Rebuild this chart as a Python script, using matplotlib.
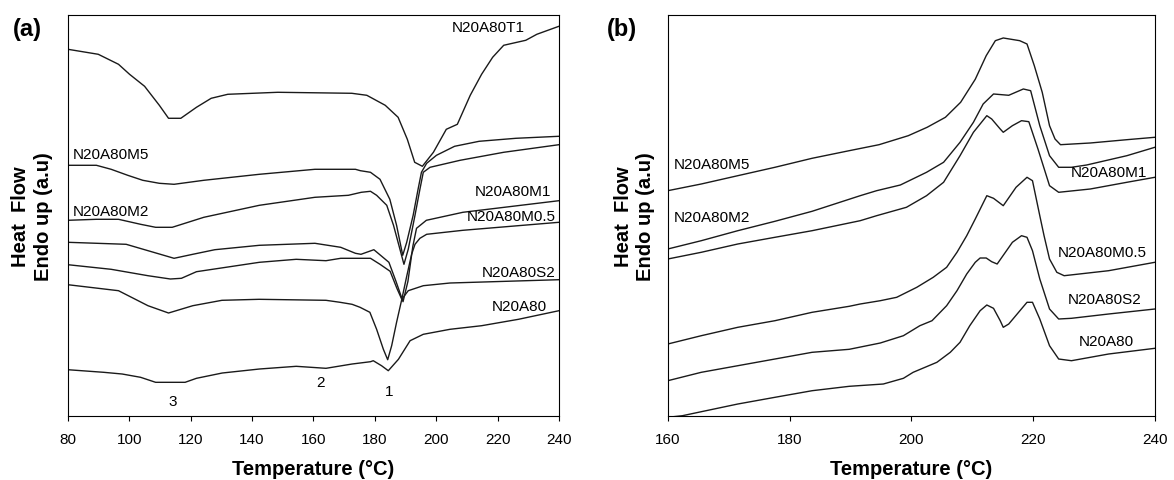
import matplotlib
matplotlib.use('Agg')
import matplotlib.pyplot as plt

plt.rcParams['font.family'] = ['Liberation Sans', 'DejaVu Sans']

# ---------------- painel (a): 80 - 240 C ----------------
t1_T = [80, 89.9, 96.5, 100.1, 105, 109.8, 112.8, 116.8, 121.9, 126.7, 132.1, 148.4, 172.5,
        177.4, 183.4, 187.6, 190.6, 193, 195.5, 199.1, 203.3, 206.9, 211.1, 214.8, 218.4,
        222, 229.2, 232.8, 240]
t1_y = [367, 362, 352, 342, 330, 311, 298, 298, 309, 318, 322, 324, 323,
        321, 311, 299, 277, 254, 250, 264, 287, 292, 321, 342, 359,
        371, 376, 382, 390]

m5_T = [80, 89.3, 94.1, 99.5, 104.4, 109.8, 114.6, 124.3, 142.4, 160.5, 173.7, 175.3, 178.6,
        181.7, 184.9, 187.1, 189.1, 190.4, 192.5, 194.1, 195.2, 196.9, 200.1, 206, 214, 226, 240]
m5_y = [251, 251, 247, 241, 236, 233, 232, 236, 242, 247, 247, 245.6, 244,
        237, 217, 191, 161, 174, 201, 227, 244, 253, 261, 270, 275, 278, 280]

m2_T = [80, 89.3, 96.5, 103.7, 108.6, 114, 117.1, 124.3, 142.4, 160.5, 171.4, 175.6, 178.6,
        180.6, 183.9, 186.1, 188.2, 189.5, 190.9, 193.1, 194.7, 195.8, 198, 207.8, 222, 240]
m2_y = [196, 197, 197, 192, 189, 189, 192, 199, 211, 219, 221, 224, 225,
        221, 211, 191, 167, 152, 167, 201, 227, 244, 249, 256, 264, 271.6]

m1_T = [80, 99, 114.6, 120.7, 127.9, 142.4, 160.5, 168.9, 173.7, 175.5, 179.7, 184.6, 186.9,
        189.2, 190.8, 192.4, 193.6, 196.8, 208.7, 240]
m1_y = [174, 172, 158, 162, 166.6, 171, 173, 169, 163, 162, 166.6, 154, 135,
        114.6, 135, 170, 188, 196, 204, 215.6]

s2_T = [80, 94.1, 106.1, 113.4, 117, 121.9, 142.4, 154.4, 164.1, 168.9, 178.6, 181.7, 185,
        187.2, 188.8, 190.9, 195.8, 204.5, 240]
s2_y = [151.6, 147, 140.6, 137.3, 138, 144.6, 154, 157, 155.6, 158, 158, 152, 145,
        128, 117, 125.6, 130.6, 133.3, 136.6]

m05_T = [80, 96.5, 106.1, 112.8, 120.7, 130.2, 142.3, 164.1, 168.7, 172.6, 175.2, 178.4, 180.6,
         182.8, 184.2, 185.5, 187.1, 188.8, 190.4, 192, 193.1, 194.7, 196.9, 208.7, 240]
m05_y = [131.6, 125.6, 110.6, 103.3, 110.6, 116, 117, 116, 114, 112, 109, 104, 87,
         67, 56.6, 70.6, 94, 117, 140, 162, 172, 178, 182, 186, 194]

n_T = [80, 91.7, 97.7, 103.7, 108.6, 118.2, 121.9, 130.3, 142.4, 154.4, 164.1, 172.6, 178.6,
       179.5, 182.2, 184.4, 187.7, 191.5, 195.8, 204.5, 214.8, 226.8, 240]
n_y = [46.6, 44, 42.3, 39, 34, 34, 38, 43.3, 47.3, 50, 48, 52.3, 54.6,
       55.6, 50.6, 45.6, 57, 75.6, 82, 87, 90.6, 97, 105.6]

# ---------------- painel (b): 160 - 240 C ----------------
bm5_T = [160, 165.5, 171.5, 177.6, 183.7, 189.8, 194.7, 199.5, 202.6, 205.6, 208.1, 210.5, 212.3,
         213.8, 215.1, 217.8, 219, 220.2, 221.5, 222.7, 223.6, 224.5, 229.4, 235.4, 240]
bm5_y = [225.6, 232.3, 240.6, 249, 258, 265.6, 271.6, 280.6, 289, 299, 314, 337, 360.6,
         375.6, 378.3, 375.6, 372.3, 350.6, 324, 290.6, 277.3, 271.6, 273.3, 276.6, 279]

bm2_T = [160, 165.5, 171.5, 177.6, 183.7, 191.6, 194.3, 198.2, 202.5, 205.3, 208, 210.2, 211.8,
         213.5, 216, 218.4, 219.6, 221.1, 222.7, 224.2, 226.3, 228.8, 235.4, 240]
bm2_y = [167.3, 175.6, 185.6, 195, 205, 220.6, 225.6, 231.3, 244, 254, 274, 294, 312.3,
         322.3, 321, 327.3, 325.6, 290.6, 260.6, 249, 249, 251.3, 260.6, 269]

bm1_T = [160, 165.5, 171.5, 177.6, 183.7, 191.6, 194.3, 199.2, 202.5, 205.3, 208, 210.2, 212.4,
         213.2, 214.6, 215.1, 216.6, 218.1, 219.3, 220.8, 222.7, 224.2, 229.4, 235.4, 240]
bm1_y = [157.3, 164, 172.3, 179, 185.6, 195.6, 200.6, 209, 220.6, 234, 260.6, 284, 300.6,
         297.3, 287.3, 284, 290.6, 295.6, 294.6, 267.3, 230.6, 224, 227.3, 234, 239]

bm05_T = [160, 165.5, 171.5, 177.6, 183.7, 189.8, 191.6, 194.9, 197.6, 200.9, 203.6, 205.8, 207.5,
          209.1, 210.5, 212.4, 213.5, 215.1, 217.2, 219, 219.9, 221.1, 221.8, 222.7, 223.9,
          225.1, 232.4, 240]
bm05_y = [72.3, 80.6, 89, 95.6, 104, 110, 112.3, 115.6, 119, 129, 139, 149, 164,
          180.6, 197.3, 220.6, 218, 210.6, 229, 239, 235.6, 200.6, 180.6, 157.3, 144,
          140.6, 145.6, 154]

bs2_T = [160, 165.5, 171.5, 177.6, 183.7, 189.8, 194.9, 198.7, 201.4, 203.4, 205.8, 207.5, 209.1,
         210.5, 211.3, 212.3, 213.2, 214.1, 216.6, 218.1, 219, 219.9, 221.1, 222.7, 224.2,
         226.3, 232.4, 240]
bs2_y = [35.6, 44, 50.6, 57.3, 64, 67, 73.3, 80.6, 90.6, 95.6, 110.6, 125.6, 142.3,
         154, 158.3, 158.3, 154.6, 152.3, 174, 180.6, 179, 165.6, 137.3, 107.3, 97.3,
         98, 102.3, 107.3]

bn_T = [160, 162.4, 165.5, 171.5, 177.6, 183.7, 189.8, 195.4, 198.7, 200.3, 204.2, 206.4, 208,
        209.6, 211.3, 212.4, 213.5, 214.6, 215.1, 216, 219, 219.9, 221.1, 222.7, 224.2,
        226.3, 232.4, 240]
bn_y = [-1, 0.6, 4.6, 12.3, 19, 25.6, 30, 32.3, 38, 44, 54, 64, 74,
        90.6, 105.6, 111.3, 108, 95.6, 89, 92.3, 114, 114, 97.3, 70.6, 57.3,
        55.6, 62.3, 68]

fig = plt.figure(figsize=(11.74, 4.81), dpi=100)
axa = fig.add_axes([0.0578, 0.1324, 0.4183, 0.835])
axb = fig.add_axes([0.5688, 0.1324, 0.4149, 0.835])

lw = 1.0
for T, y in [(t1_T, t1_y), (m5_T, m5_y), (m2_T, m2_y), (m1_T, m1_y),
             (s2_T, s2_y), (m05_T, m05_y), (n_T, n_y)]:
    axa.plot(T, y, color='#1a1a1a', lw=lw)

for T, y in [(bm5_T, bm5_y), (bm2_T, bm2_y), (bm1_T, bm1_y),
             (bm05_T, bm05_y), (bs2_T, bs2_y), (bn_T, bn_y)]:
    axb.plot(T, y, color='#1a1a1a', lw=lw)

fs = 11
# rotulos painel (a)
axa.text(217, 389, 'N20A80T1', fontsize=fs, ha='center', va='center')
axa.text(81.6, 262, 'N20A80M5', fontsize=fs, ha='left', va='center')
axa.text(81.6, 205.6, 'N20A80M2', fontsize=fs, ha='left', va='center')
axa.text(225, 225.6, 'N20A80M1', fontsize=fs, ha='center', va='center')
axa.text(224.4, 200.6, 'N20A80M0.5', fontsize=fs, ha='center', va='center')
axa.text(226.8, 144, 'N20A80S2', fontsize=fs, ha='center', va='center')
axa.text(227.1, 110, 'N20A80', fontsize=fs, ha='center', va='center')
axa.text(114, 15.6, '3', fontsize=fs, ha='center', va='center')
axa.text(162.3, 34, '2', fontsize=fs, ha='center', va='center')
axa.text(184.6, 25.6, '1', fontsize=fs, ha='center', va='center')

# rotulos painel (b)
axb.text(160.9, 252.3, 'N20A80M5', fontsize=fs, ha='left', va='center')
axb.text(160.9, 199, 'N20A80M2', fontsize=fs, ha='left', va='center')
axb.text(232.5, 244, 'N20A80M1', fontsize=fs, ha='center', va='center')
axb.text(231.3, 164, 'N20A80M0.5', fontsize=fs, ha='center', va='center')
axb.text(231.8, 117.3, 'N20A80S2', fontsize=fs, ha='center', va='center')
axb.text(232.1, 75.6, 'N20A80', fontsize=fs, ha='center', va='center')

for ax, xmin, ticks in [(axa, 80, range(80, 241, 20)), (axb, 160, range(160, 241, 20))]:
    ax.set_xlim(xmin, 240)
    ax.set_ylim(0, 401.6)
    ax.set_xticks(list(ticks))
    ax.set_yticks([])
    ax.tick_params(axis='x', direction='out', length=3.6, width=0.8, labelsize=fs, pad=8)
    for sp in ax.spines.values():
        sp.set_linewidth(0.8)
    ax.set_xlabel('Temperature (°C)', fontsize=14.5, fontweight='bold', labelpad=9)

# eixo y e letras dos paineis
for xc in [0.0275, 0.5405]:
    fig.text(xc, 0.5499, 'Heat  Flow\nEndo up (a.u)', rotation=90, ha='center', va='center',
             fontsize=14.5, fontweight='bold', linespacing=1.25)
fig.text(0.0110, 0.9397, '(a)', fontsize=17, fontweight='bold', ha='left', va='center')
fig.text(0.5170, 0.9397, '(b)', fontsize=17, fontweight='bold', ha='left', va='center')

fig.savefig('out.png', dpi=100)
